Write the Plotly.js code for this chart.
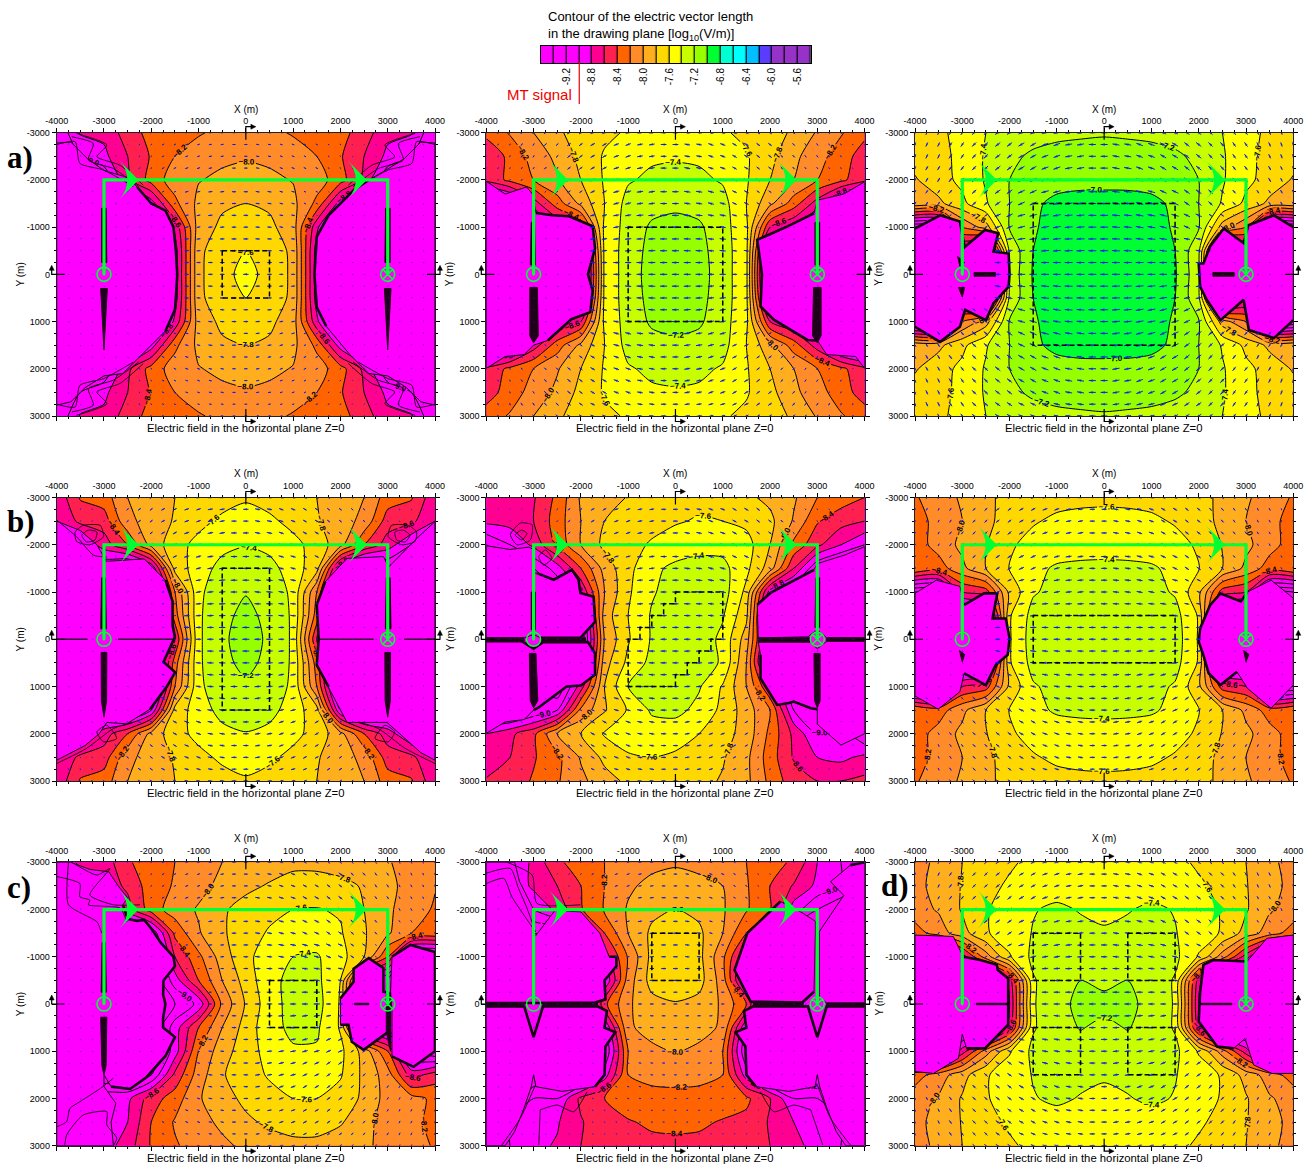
<!DOCTYPE html>
<html><head><meta charset="utf-8">
<script src="https://cdn.plot.ly/plotly-3.0.0.min.js"></script>
<style>html,body{margin:0;padding:0;background:#fff}</style></head><body><div id="chart"></div>
<script>
const gridX=[-4000,-3500,-3000,-2500,-2000,-1500,-1000,-500,0,500,1000,1500,2000,2500,3000,3500,4000];
const gridY=[-3000,-2500,-2000,-1500,-1000,-500,0,500,1000,1500,2000,2500,3000];
const legendLevels=[-9.5,-9.3,-9.1,-8.9,-8.7,-8.5,-8.3,-8.1,-7.9,-7.7,-7.5,-7.3,-7.1,-6.9,-6.7,-6.5,-6.3,-6.1,-5.9,-5.7,-5.5];
const legendColors=['#ff00ff','#ff00ff','#ff00ff','#ff00ff','#ff0090','#ff2050','#ff6400','#ff8c28','#ffaf1e','#ffd800','#ffff00','#c8ff00','#96ff00','#00ff32','#00ffd2','#00ffff','#00beff','#5a3cff','#9632c8','#9632c8','#9632c8'];
const legendTicks=[-9.2,-8.8,-8.4,-8.0,-7.6,-7.2,-6.8,-6.4,-6.0,-5.6];
const legendTickText=['-9.2','-8.8','-8.4','-8.0','-7.6','-7.2','-6.8','-6.4','-6.0','-5.6'];
const mtSignalLevel=-9.0;
const xTicks=[-4000,-3000,-2000,-1000,0,1000,2000,3000,4000];
const yTicks=[-3000,-2000,-1000,0,1000,2000,3000];
const loopX=[-3000,-3000,3000,3000];
const loopY=[0,-2000,-2000,0];
const arrowAngle=[
[200,205,215,225,235,245,255,262,270,278,285,295,305,315,325,335,340],
[200,205,215,225,232,240,250,260,270,280,290,300,308,315,325,335,340],
[205,210,218,225,232,240,250,260,270,280,290,300,308,315,322,330,335],
[210,215,222,228,235,245,255,262,270,278,285,295,305,312,318,325,330],
[225,225,230,235,245,255,260,265,270,275,280,285,295,305,310,315,315],
[245,245,250,255,260,262,265,268,270,272,275,278,280,285,290,295,295],
[270,270,270,270,270,270,270,270,270,270,270,270,270,270,270,270,270],
[295,295,290,285,280,278,275,272,270,268,265,262,260,255,250,245,245],
[315,315,310,305,295,285,280,275,270,265,260,255,245,235,230,225,225],
[330,325,318,312,305,295,285,278,270,262,255,245,235,228,222,215,210],
[335,330,322,315,308,300,290,280,270,260,250,240,232,225,218,210,205],
[340,335,325,315,308,300,290,280,270,260,250,240,232,225,215,205,200],
[340,335,325,315,305,295,285,278,270,262,255,245,235,225,215,205,200]];

const panelA_z=[
[-9.2,-8.78,-8.75,-8.5,-8.33,-8.28,-8.22,-8.15,-8.12,-8.15,-8.22,-8.28,-8.33,-8.5,-8.75,-8.78,-9.2],
[-9.2,-9.0,-8.85,-8.6,-8.38,-8.2,-8.1,-8.04,-8.02,-8.04,-8.1,-8.2,-8.38,-8.6,-8.85,-9.0,-9.2],
[-9.4,-9.4,-9.2,-8.65,-8.32,-8.1,-8.01,-7.96,-7.93,-7.96,-8.01,-8.1,-8.32,-8.65,-9.2,-9.4,-9.4],
[-9.4,-9.4,-9.4,-9.4,-8.9,-8.25,-7.95,-7.83,-7.8,-7.83,-7.95,-8.25,-8.9,-9.4,-9.4,-9.4,-9.4],
[-9.4,-9.4,-9.4,-9.4,-9.4,-8.75,-7.9,-7.76,-7.7,-7.76,-7.9,-8.75,-9.4,-9.4,-9.4,-9.4,-9.4],
[-9.4,-9.4,-9.4,-9.4,-9.4,-8.9,-7.83,-7.72,-7.6,-7.72,-7.83,-8.9,-9.4,-9.4,-9.4,-9.4,-9.4],
[-9.4,-9.4,-9.4,-9.4,-9.4,-8.9,-7.83,-7.7,-7.5,-7.7,-7.83,-8.9,-9.4,-9.4,-9.4,-9.4,-9.4],
[-9.4,-9.4,-9.4,-9.4,-9.4,-8.9,-7.83,-7.72,-7.6,-7.72,-7.83,-8.9,-9.4,-9.4,-9.4,-9.4,-9.4],
[-9.4,-9.4,-9.4,-9.4,-9.4,-8.75,-7.9,-7.76,-7.7,-7.76,-7.9,-8.75,-9.4,-9.4,-9.4,-9.4,-9.4],
[-9.4,-9.4,-9.4,-9.4,-8.9,-8.25,-7.95,-7.83,-7.8,-7.83,-7.95,-8.25,-8.9,-9.4,-9.4,-9.4,-9.4],
[-9.4,-9.4,-9.2,-8.65,-8.32,-8.1,-8.01,-7.96,-7.93,-7.96,-8.01,-8.1,-8.32,-8.65,-9.2,-9.4,-9.4],
[-9.2,-9.0,-8.85,-8.6,-8.38,-8.2,-8.1,-8.04,-8.02,-8.04,-8.1,-8.2,-8.38,-8.6,-8.85,-9.0,-9.2],
[-9.2,-8.78,-8.75,-8.5,-8.33,-8.28,-8.22,-8.15,-8.12,-8.15,-8.22,-8.28,-8.33,-8.5,-8.75,-8.78,-9.2]];
const panelA_blobs=[
[-4000,-2780,-3700,-2800,-3350,-2450,-3000,-2200,-2500,-2050,-2300,-1850,-2000,-1500,-1700,-1350,-1530,-1000,-1480,-500,-1450,0,-1480,500,-1500,750,-1700,1200,-2200,1700,-2600,2100,-3000,2150,-3400,2400,-3700,2700,-4000,2770],
[4000,-2780,3700,-2800,3350,-2450,3000,-2230,2600,-2000,2300,-1800,1750,-1250,1500,-800,1450,0,1500,700,1700,1100,2200,1700,2600,2100,3000,2150,3400,2400,3700,2700,4000,2770]];
const panelA_edges=[[5,13],[4,10]];
const panelA_spikes=[[-3050,-1400,-2955,-1400,-2940,-250,-3050,-250],[-3070,300,-2930,300,-3000,1600],[2955,-1400,3050,-1400,3050,-250,2940,-250],[2930,300,3070,300,3000,1600]];
const panelA_thin=[
[-4000,-2750,-3610,-2810,-3510,-2350,-3010,-2210,-2380,-1860],
[-3680,-2915,-3225,-2770,-3330,-2420,-2800,-2240,-2270,-1860],
[-3580,-2985,-2940,-2740,-3150,-2490,-2660,-2310,-2170,-1890],
[4000,-2750,3610,-2810,3510,-2350,3010,-2210,2380,-1860],
[3680,-2915,3225,-2770,3330,-2420,2800,-2240,2270,-1860],
[3580,-2985,2940,-2740,3150,-2490,2660,-2310,2170,-1890],
[-4000,2750,-3610,2810,-3510,2350,-3010,2210,-2380,1860],
[-3680,2915,-3225,2770,-3330,2420,-2800,2240,-2270,1860],
[-3580,2985,-2940,2740,-3150,2490,-2660,2310,-2170,1890],
[4000,2750,3610,2810,3510,2350,3010,2210,2380,1860],
[3680,2915,3225,2770,3330,2420,2800,2240,2270,1860],
[3580,2985,2940,2740,3150,2490,2660,2310,2170,1890]];
const panelA_boxX=[-500,500,500,-500,-500];
const panelA_boxY=[-500,-500,500,500,-500];

const panelB_z=[
[-8.35,-8.18,-8.0,-7.83,-7.72,-7.64,-7.58,-7.53,-7.5,-7.53,-7.58,-7.64,-7.72,-7.83,-8.02,-8.18,-8.35],
[-8.55,-8.35,-8.12,-7.95,-7.74,-7.58,-7.48,-7.43,-7.42,-7.43,-7.48,-7.58,-7.74,-7.95,-8.12,-8.3,-8.5],
[-8.55,-8.35,-8.2,-8.02,-7.8,-7.58,-7.42,-7.36,-7.34,-7.36,-7.42,-7.58,-7.8,-8.0,-8.2,-8.35,-8.55],
[-9.4,-9.2,-8.7,-8.3,-7.95,-7.6,-7.33,-7.27,-7.24,-7.27,-7.33,-7.6,-7.95,-8.3,-8.7,-9.2,-9.4],
[-9.4,-9.4,-9.2,-8.8,-8.6,-7.55,-7.32,-7.17,-7.14,-7.17,-7.32,-7.55,-8.6,-8.8,-9.2,-9.4,-9.4],
[-9.4,-9.4,-9.4,-9.4,-9.2,-7.55,-7.3,-7.14,-7.1,-7.14,-7.3,-7.55,-9.2,-9.4,-9.4,-9.4,-9.4],
[-9.4,-9.4,-9.4,-9.4,-9.4,-7.55,-7.3,-7.12,-7.08,-7.12,-7.3,-7.55,-9.4,-9.4,-9.4,-9.4,-9.4],
[-9.4,-9.4,-9.4,-9.4,-9.2,-7.55,-7.3,-7.14,-7.1,-7.14,-7.3,-7.55,-9.2,-9.4,-9.4,-9.4,-9.4],
[-9.4,-9.4,-9.2,-8.8,-8.6,-7.55,-7.32,-7.17,-7.14,-7.17,-7.32,-7.55,-8.6,-8.8,-9.2,-9.4,-9.4],
[-9.4,-9.2,-8.7,-8.3,-7.95,-7.6,-7.33,-7.27,-7.24,-7.27,-7.33,-7.6,-7.95,-8.3,-8.7,-9.2,-9.4],
[-8.55,-8.35,-8.2,-8.02,-7.8,-7.58,-7.42,-7.36,-7.34,-7.36,-7.42,-7.58,-7.8,-8.0,-8.2,-8.35,-8.55],
[-8.5,-8.3,-8.12,-7.95,-7.74,-7.58,-7.48,-7.43,-7.42,-7.43,-7.48,-7.58,-7.74,-7.95,-8.12,-8.3,-8.5],
[-8.3,-8.18,-8.0,-7.83,-7.72,-7.64,-7.58,-7.53,-7.5,-7.53,-7.58,-7.64,-7.72,-7.83,-8.02,-8.18,-8.3]];
const panelB_blobs=[
[-4000,-1970,-3600,-1700,-3150,-1850,-3020,-1700,-2950,-1300,-2600,-1250,-2250,-1230,-1750,-1020,-1700,-550,-1850,0,-1750,350,-1800,800,-2200,950,-2700,1400,-3000,1500,-3200,1700,-3600,1740,-4000,1990],
[4000,-1960,3560,-1700,3000,-1570,2930,-1290,2360,-1010,1730,-730,1830,0,1800,680,2080,960,2790,1390,3000,1400,3200,1700,3810,1740,4000,1990]];
const panelB_edges=[[4,13],[3,10]];
const panelB_spikes=[[-3050,-1100,-2980,-1100,-2960,-200,-3070,-200],[-3080,280,-2920,280,-2900,1300,-3000,1450,-3080,1300],[2950,-1100,3050,-1100,3050,-200,2950,-200],[2920,280,3080,280,3080,1300,3000,1450,2900,1300]];
const panelB_thin=[];
const panelB_boxX=[-1000,1000,1000,-1000,-1000];
const panelB_boxY=[-1000,-1000,1000,1000,-1000];

const panelC_z=[
[-7.72,-7.65,-7.52,-7.4,-7.3,-7.27,-7.24,-7.23,-7.22,-7.23,-7.24,-7.27,-7.3,-7.4,-7.52,-7.65,-7.72],
[-7.72,-7.68,-7.53,-7.38,-7.24,-7.17,-7.14,-7.12,-7.11,-7.12,-7.14,-7.17,-7.24,-7.38,-7.53,-7.68,-7.72],
[-7.82,-7.68,-7.55,-7.38,-7.2,-7.1,-7.06,-7.04,-7.03,-7.04,-7.06,-7.1,-7.2,-7.38,-7.55,-7.68,-7.82],
[-7.85,-7.85,-7.65,-7.42,-7.2,-7.03,-6.96,-6.95,-6.96,-6.95,-6.96,-7.03,-7.2,-7.42,-7.65,-7.85,-7.85],
[-9.4,-9.4,-8.2,-7.9,-7.18,-7.02,-6.93,-6.91,-6.9,-6.91,-6.93,-7.02,-7.18,-7.9,-8.2,-9.4,-9.4],
[-9.4,-9.4,-8.9,-9.2,-7.35,-7.0,-6.91,-6.88,-6.87,-6.88,-6.91,-7.0,-7.35,-9.2,-8.9,-9.4,-9.4],
[-9.4,-9.4,-9.0,-9.2,-7.35,-6.98,-6.9,-6.87,-6.86,-6.87,-6.9,-6.98,-7.35,-9.2,-9.0,-9.4,-9.4],
[-9.4,-9.4,-8.9,-9.2,-7.35,-7.0,-6.91,-6.88,-6.87,-6.88,-6.91,-7.0,-7.35,-9.2,-8.9,-9.4,-9.4],
[-9.4,-9.4,-8.2,-7.9,-7.18,-7.02,-6.93,-6.91,-6.9,-6.91,-6.93,-7.02,-7.18,-7.9,-8.2,-9.4,-9.4],
[-7.85,-7.85,-7.65,-7.42,-7.2,-7.03,-6.96,-6.95,-6.96,-6.95,-6.96,-7.03,-7.2,-7.42,-7.65,-7.85,-7.85],
[-7.82,-7.68,-7.55,-7.38,-7.2,-7.1,-7.06,-7.04,-7.03,-7.04,-7.06,-7.1,-7.2,-7.38,-7.55,-7.68,-7.82],
[-7.72,-7.68,-7.53,-7.38,-7.24,-7.17,-7.14,-7.12,-7.11,-7.12,-7.14,-7.17,-7.24,-7.38,-7.53,-7.68,-7.72],
[-7.72,-7.65,-7.52,-7.4,-7.3,-7.27,-7.24,-7.23,-7.22,-7.23,-7.24,-7.27,-7.3,-7.4,-7.52,-7.65,-7.72]];
const panelC_blobs=[
[-4000,-970,-3470,-1250,-3050,-1120,-2950,-580,-2520,-940,-2240,-870,-2340,-480,-2020,-440,-2000,0,-2020,260,-2340,610,-2500,970,-2940,750,-3050,1110,-3470,1430,-4000,1110],
[4000,-1000,3590,-1250,3050,-1040,2950,-660,2530,-970,2240,-590,2100,-230,2000,-230,2030,260,2170,540,2460,970,2950,540,3060,1180,3590,1350,4000,970]];
const panelC_edges=[[0,15],[0,14]];
const panelC_spikes=[[-2750,-40,-2300,-40,-2300,40,-2750,40],[2300,-40,2750,-40,2750,40,2300,40],[-3100,-380,-2950,-250,-3050,-170],[-3080,280,-2950,280,-3000,480]];
const panelC_thin=[];
const panelC_boxX=[-1500,1500,1500,-1500,-1500];
const panelC_boxY=[-1500,-1500,1500,1500,-1500];

const panelD_z=[
[-8.75,-8.38,-8.3,-8.0,-7.9,-7.8,-7.74,-7.68,-7.62,-7.68,-7.74,-7.8,-7.9,-8.0,-8.3,-8.38,-8.75],
[-8.8,-8.55,-8.5,-8.05,-7.92,-7.78,-7.66,-7.56,-7.53,-7.56,-7.66,-7.78,-7.92,-8.05,-8.5,-8.55,-8.8],
[-9.2,-9.0,-8.7,-8.4,-7.93,-7.68,-7.54,-7.46,-7.41,-7.46,-7.54,-7.68,-7.93,-8.4,-8.7,-9.0,-9.2],
[-9.4,-9.4,-9.2,-9.4,-9.0,-7.72,-7.5,-7.33,-7.29,-7.33,-7.5,-7.72,-9.0,-9.4,-9.2,-9.4,-9.4],
[-9.4,-9.4,-9.4,-9.4,-9.4,-8.2,-7.44,-7.28,-7.21,-7.28,-7.44,-8.2,-9.4,-9.4,-9.4,-9.4,-9.4],
[-9.4,-9.4,-9.4,-9.4,-9.4,-8.3,-7.43,-7.25,-7.15,-7.25,-7.43,-8.3,-9.4,-9.4,-9.4,-9.4,-9.4],
[-9.4,-9.4,-9.4,-9.4,-9.4,-8.6,-7.43,-7.24,-7.1,-7.24,-7.43,-8.6,-9.4,-9.4,-9.4,-9.4,-9.4],
[-9.4,-9.4,-9.4,-9.4,-9.4,-8.3,-7.43,-7.25,-7.15,-7.25,-7.43,-8.3,-9.4,-9.4,-9.4,-9.4,-9.4],
[-9.4,-9.4,-9.4,-9.4,-9.4,-8.2,-7.44,-7.28,-7.23,-7.28,-7.44,-8.2,-9.4,-9.4,-9.4,-9.4,-9.4],
[-9.4,-9.4,-9.2,-9.4,-9.0,-7.72,-7.5,-7.33,-7.29,-7.33,-7.5,-7.72,-9.0,-9.4,-9.2,-9.4,-9.4],
[-9.2,-9.0,-8.7,-8.4,-7.93,-7.68,-7.54,-7.46,-7.41,-7.46,-7.54,-7.68,-7.93,-8.4,-8.7,-9.0,-9.2],
[-8.8,-8.55,-8.5,-8.05,-7.92,-7.78,-7.66,-7.56,-7.53,-7.56,-7.66,-7.78,-7.92,-8.05,-8.5,-8.55,-8.8],
[-8.75,-8.38,-8.3,-8.0,-7.9,-7.8,-7.74,-7.68,-7.62,-7.68,-7.74,-7.8,-7.9,-8.0,-8.3,-8.38,-8.75]];
const panelD_blobs=[
[-4000,-2500,-3500,-2300,-3150,-2000,-2950,-1650,-2150,-1700,-1700,-1250,-1550,-800,-1550,-300,-1500,-50,-1740,480,-1495,700,-1670,1000,-2025,1480,-2520,1790,-2940,1760,-3100,2000,-3400,2250,-3700,2400,-4000,2560],
[4000,-2490,3650,-2170,3020,-1530,2910,-1750,2140,-1710,1680,-1220,1500,-730,1540,0,1500,550,1750,1010,2140,1760,2985,1760,3260,2000,3700,2400,4000,2560]];
const panelD_edges=[[5,12],[5,9]];
const panelD_spikes=[[-3050,-1300,-2970,-1300,-2950,-220,-3070,-220],[-3060,280,-2940,280,-2945,1300,-3000,1650,-3055,1300],[2970,-1300,3050,-1300,3070,-220,2950,-220],[2940,280,3060,280,3055,1300,3000,1650,2945,1300],[-2700,0,-1500,0],[-4000,0,-3350,0],[1500,0,2700,0],[3350,0,4000,0]];
const panelD_thin=[
[-3610,-2270,-3440,-2410,-3080,-2410,-3010,-2170,-3300,-2000,-3580,-2070,-3610,-2270],
[-3470,-2200,-3330,-2310,-3150,-2270,-3190,-2100,-3370,-2060,-3470,-2200],
[-4000,-2520,-3580,-2170,-3220,-1780,-2940,-1740],
[-4000,2630,-3370,2310,-2800,1890,-2380,1750],
[-3150,1960,-2940,1820,-2730,2100,-3010,2170,-3150,1960],
[3610,-2270,3440,-2410,3080,-2410,3010,-2170,3300,-2000,3580,-2070,3610,-2270],
[3470,-2200,3330,-2310,3150,-2270,3190,-2100,3370,-2060,3470,-2200],
[4000,2630,3370,2310,2800,1890,2380,1750],
[3150,1960,2940,1820,2730,2100,3010,2170,3150,1960]];
const panelD_boxX=[-500,500,500,-500,-500];
const panelD_boxY=[-1500,-1500,1500,1500,-1500];

const panelE_z=[
[-8.68,-8.65,-8.62,-8.35,-7.97,-7.88,-7.79,-7.72,-7.67,-7.66,-7.7,-7.76,-7.85,-7.97,-8.2,-8.3,-8.4],
[-8.75,-8.72,-8.6,-8.3,-8.0,-7.8,-7.72,-7.66,-7.62,-7.58,-7.6,-7.65,-7.75,-8.02,-8.38,-8.52,-8.6],
[-9.2,-9.0,-8.75,-8.35,-8.0,-7.75,-7.66,-7.58,-7.5,-7.47,-7.47,-7.52,-7.8,-8.25,-8.55,-8.8,-9.0],
[-9.4,-9.4,-9.2,-8.9,-8.4,-7.92,-7.66,-7.44,-7.36,-7.32,-7.34,-7.55,-7.9,-8.6,-9.2,-9.4,-9.4],
[-9.4,-9.4,-9.4,-9.2,-8.8,-8.0,-7.63,-7.42,-7.32,-7.26,-7.31,-7.65,-8.9,-9.2,-9.4,-9.4,-9.4],
[-9.4,-9.4,-9.4,-9.4,-9.2,-7.9,-7.6,-7.38,-7.3,-7.27,-7.38,-7.75,-9.2,-9.4,-9.4,-9.4,-9.4],
[-9.4,-9.4,-9.4,-9.4,-9.4,-7.98,-7.62,-7.38,-7.3,-7.28,-7.45,-7.9,-9.0,-9.4,-9.4,-9.4,-9.4],
[-9.4,-9.4,-9.4,-9.4,-9.2,-7.88,-7.55,-7.34,-7.3,-7.32,-7.42,-8.0,-9.2,-9.4,-9.4,-9.4,-9.4],
[-9.4,-9.4,-9.2,-9.4,-8.7,-7.8,-7.39,-7.32,-7.31,-7.38,-7.62,-8.0,-8.6,-9.2,-9.4,-9.4,-9.4],
[-9.4,-9.4,-9.2,-9.0,-8.15,-7.82,-7.58,-7.37,-7.34,-7.46,-7.65,-7.9,-8.2,-9.0,-9.2,-9.2,-9.4],
[-8.8,-8.65,-8.45,-8.0,-7.8,-7.58,-7.52,-7.5,-7.52,-7.6,-7.72,-7.88,-8.25,-8.65,-9.0,-8.9,-9.2],
[-8.72,-8.6,-8.42,-8.25,-7.98,-7.75,-7.62,-7.6,-7.63,-7.68,-7.78,-7.95,-8.3,-8.62,-8.8,-8.85,-8.75],
[-8.58,-8.5,-8.38,-8.22,-8.05,-7.88,-7.76,-7.7,-7.7,-7.74,-7.82,-7.95,-8.25,-8.52,-8.6,-8.6,-8.55]];
const panelE_blobs=[
[-4000,-1980,-3500,-1900,-3100,-1950,-3000,-1900,-3000,-1400,-2930,-1400,-2575,-1260,-2190,-1470,-2050,-1260,-2010,-980,-1730,-900,-1700,-370,-2010,-30,-2850,-30,-3000,-100,-3200,-30,-4000,-30],
[-4000,40,-3250,40,-3000,200,-2800,60,-1850,60,-1700,300,-1700,750,-2000,980,-2300,1000,-2900,1450,-3000,1500,-3200,1700,-3600,1750,-4000,1990],
[1730,-730,2010,-980,2930,-1470,3000,-1600,3600,-1790,4000,-1960,4000,-30,3200,-30,3000,-200,2800,-50,1750,-30],
[1750,60,2850,60,3000,200,3200,40,4000,40,4000,2000,3500,2240,3000,1800,3000,1480,2860,1460,2500,1320,2400,1350,2150,1390,1800,830,1800,330]];
const panelE_edges=[[5,13],[0,10],[0,2],[8,14]];
const panelE_spikes=[[-3050,-1000,-2960,-1000,-2960,-200,-3050,-200],[-3090,300,-2950,300,-2910,1300,-3000,1450,-3070,1300],[2970,-1300,3050,-1300,3050,-250,2950,-250],[2930,300,3060,300,3060,1300,3000,1450,2940,1300],[1750,-30,2850,-30,2850,60,1750,60],[3200,-30,4000,-30,4000,40,3200,40],[-2850,-30,-1900,-30,-1900,60,-2850,60],[-4000,-30,-3200,-30,-3200,40,-4000,40]];
const panelE_thin=[
[-3490,-2210,-3280,-2460,-3030,-2420,-3070,-2100,-3350,-2000,-3490,-2210],
[-3390,-2210,-3250,-2310,-3140,-2240,-3250,-2100,-3390,-2210],
[-2890,-1750,-2750,-1890,-2610,-1710,-2790,-1570,-2890,-1750]];
const panelE_boxX=[0,1000,1000,750,750,500,500,250,250,0,0,-1000,-1000,-750,-750,-500,-500,-250,-250,0,0];
const panelE_boxY=[-1000,-1000,0,0,250,250,500,500,750,750,1000,1000,0,0,-250,-250,-500,-500,-750,-750,-1000];

const panelF_z=[
[-8.22,-8.1,-7.97,-7.82,-7.77,-7.72,-7.67,-7.65,-7.64,-7.65,-7.67,-7.72,-7.77,-7.82,-7.97,-8.1,-8.22],
[-8.3,-8.12,-8.0,-7.84,-7.73,-7.62,-7.56,-7.54,-7.54,-7.54,-7.56,-7.62,-7.73,-7.84,-8.0,-8.12,-8.3],
[-8.3,-8.12,-7.95,-7.81,-7.63,-7.53,-7.48,-7.46,-7.45,-7.46,-7.48,-7.53,-7.63,-7.81,-7.95,-8.12,-8.3],
[-8.2,-8.3,-8.05,-7.8,-7.59,-7.44,-7.38,-7.37,-7.37,-7.37,-7.38,-7.44,-7.59,-7.8,-8.05,-8.3,-8.2],
[-9.4,-9.4,-8.6,-8.5,-7.75,-7.42,-7.34,-7.31,-7.3,-7.31,-7.34,-7.42,-7.75,-8.5,-8.6,-9.4,-9.4],
[-9.4,-9.4,-9.4,-9.2,-7.62,-7.33,-7.3,-7.27,-7.26,-7.27,-7.3,-7.33,-7.62,-9.2,-9.4,-9.4,-9.4],
[-9.4,-9.4,-9.4,-9.4,-7.62,-7.3,-7.25,-7.22,-7.21,-7.22,-7.25,-7.3,-7.62,-9.4,-9.4,-9.4,-9.4],
[-9.4,-9.4,-9.4,-9.2,-7.62,-7.33,-7.3,-7.27,-7.26,-7.27,-7.3,-7.33,-7.62,-9.2,-9.4,-9.4,-9.4],
[-9.4,-9.4,-8.6,-8.5,-7.75,-7.42,-7.34,-7.31,-7.3,-7.31,-7.34,-7.42,-7.75,-8.5,-8.6,-9.4,-9.4],
[-8.2,-8.3,-8.05,-7.8,-7.59,-7.44,-7.38,-7.37,-7.37,-7.37,-7.38,-7.44,-7.59,-7.8,-8.05,-8.3,-8.2],
[-8.3,-8.12,-7.95,-7.81,-7.63,-7.53,-7.48,-7.46,-7.45,-7.46,-7.48,-7.53,-7.63,-7.81,-7.95,-8.12,-8.3],
[-8.3,-8.12,-8.0,-7.84,-7.73,-7.62,-7.56,-7.54,-7.54,-7.54,-7.56,-7.62,-7.73,-7.84,-8.0,-8.12,-8.3],
[-8.22,-8.1,-7.97,-7.82,-7.77,-7.72,-7.67,-7.65,-7.64,-7.65,-7.67,-7.72,-7.77,-7.82,-7.97,-8.1,-8.22]];
const panelF_blobs=[
[-4000,-970,-3550,-1250,-3050,-1120,-2960,-730,-2540,-970,-2260,-970,-2360,-440,-2080,-440,-2000,-20,-2040,330,-2290,540,-2500,970,-2960,720,-3050,1110,-3510,1480,-4000,1200],
[4000,-870,3530,-1250,3030,-1000,2890,-800,2460,-970,2240,-720,2030,-230,2000,50,2100,340,2210,720,2460,970,2810,690,3030,1040,3530,1460,4000,970]];
const panelF_edges=[[3,12],[2,11]];
const panelF_spikes=[[-3060,240,-2950,320,-3000,480],[2950,240,3060,320,3000,480]];
const panelF_thin=[];
const panelF_boxX=[-1500,1500,1500,-1500,-1500];
const panelF_boxY=[-500,-500,500,500,-500];

const panelG_z=[
[-9.0,-8.75,-8.72,-8.42,-8.32,-8.2,-8.1,-8.0,-7.95,-7.9,-7.85,-7.85,-7.9,-7.94,-7.98,-8.1,-8.18],
[-9.1,-8.95,-8.75,-8.55,-8.3,-8.18,-8.06,-7.95,-7.85,-7.78,-7.72,-7.72,-7.74,-7.82,-7.93,-8.1,-8.19],
[-9.4,-9.2,-9.0,-8.7,-8.3,-8.1,-7.98,-7.83,-7.72,-7.65,-7.6,-7.59,-7.62,-7.8,-7.96,-8.12,-8.22],
[-9.4,-9.4,-9.4,-9.4,-9.2,-8.35,-8.02,-7.83,-7.68,-7.58,-7.52,-7.5,-7.58,-7.78,-7.97,-8.2,-8.25],
[-9.4,-9.4,-9.4,-9.4,-9.4,-8.6,-8.25,-7.9,-7.65,-7.5,-7.4,-7.38,-7.52,-7.8,-8.4,-9.4,-9.4],
[-9.4,-9.4,-9.4,-9.4,-9.4,-8.9,-8.4,-8.0,-7.72,-7.45,-7.35,-7.35,-7.6,-9.0,-9.2,-9.4,-9.4],
[-9.4,-9.4,-9.4,-9.4,-9.3,-9.2,-8.95,-8.15,-7.78,-7.48,-7.33,-7.32,-7.62,-9.0,-9.2,-9.4,-9.4],
[-9.4,-9.4,-9.4,-9.4,-9.4,-8.9,-8.4,-8.0,-7.72,-7.46,-7.36,-7.37,-7.62,-9.0,-9.2,-9.4,-9.4],
[-9.4,-9.4,-9.4,-9.4,-9.4,-8.9,-8.2,-7.88,-7.7,-7.52,-7.42,-7.42,-7.55,-7.88,-8.4,-9.2,-9.4],
[-9.4,-9.4,-9.4,-9.4,-9.2,-8.55,-8.1,-7.82,-7.68,-7.58,-7.5,-7.52,-7.58,-7.85,-8.1,-8.7,-8.5],
[-9.4,-9.0,-8.85,-8.85,-8.5,-8.3,-8.02,-7.88,-7.75,-7.66,-7.6,-7.6,-7.68,-7.84,-8.08,-8.12,-8.25],
[-9.1,-8.9,-8.9,-8.8,-8.4,-8.18,-8.05,-7.97,-7.84,-7.76,-7.72,-7.72,-7.78,-7.92,-8.1,-8.15,-8.25],
[-9.0,-8.95,-8.9,-8.7,-8.38,-8.22,-8.12,-8.03,-7.97,-7.9,-7.85,-7.85,-7.9,-7.97,-8.05,-8.12,-8.22]];
const panelG_blobs=[
[-4000,-3000,-3700,-3000,-3300,-2850,-2900,-2800,-2700,-2500,-2500,-2250,-2600,-2100,-2500,-1800,-2300,-1760,-2150,-1780,-2000,-1600,-1800,-1300,-1530,-1000,-1500,-800,-1740,-500,-1750,-200,-1700,0,-1750,300,-1750,500,-1500,700,-1700,1100,-2100,1550,-2450,1800,-2850,1750,-3000,1500,-3000,1750,-2750,2100,-2850,2500,-2800,3000,-4000,3000],
[2000,-120,2280,-470,2280,-750,2600,-970,2910,-760,2910,-260,3000,-250,3020,585,2490,970,2240,800,2170,440,2000,440],
[3090,-1000,3480,-1250,4000,-1100,4000,1000,3550,1330,3090,1110,3090,160,3060,-260]];
const panelG_edges=[[6,23],[0,12],[0,5]];
const panelG_spikes=[[-3040,-1300,-2970,-1300,-2950,-250,-3060,-250],[-3070,280,-2940,280,-2955,1300,-3000,1500,-3045,1300],[2970,-250,3060,-250,3060,1000,2970,600],[2300,-15,2600,-15,2600,15,2300,15]];
const panelG_thin=[
[-3750,-3000,-3750,-2100,-3150,-1740,-3050,-1500],
[-4000,-2700,-3510,-2550,-3510,-2270,-3300,-2200,-3330,-2100,-2660,-2030,-2520,-1740],
[-3680,-3000,-3150,-2730,-2870,-2870,-3300,-2310,-2800,-2100,-2240,-2100],
[-4000,2600,-3790,2490,-3720,2210,-3510,2070,-3080,1790,-2800,1570],
[-3830,2980,-3790,2770,-3440,2350,-2940,2280,-2940,2560,-2730,2840,-2800,3000]];
const panelG_boxX=[500,1500,1500,500,500];
const panelG_boxY=[-500,-500,500,500,-500];

const panelH_z=[
[-9.2,-9.0,-8.75,-8.42,-8.35,-8.2,-8.12,-8.05,-8.02,-8.05,-8.12,-8.2,-8.35,-8.42,-8.8,-9.0,-9.2],
[-9.2,-9.0,-8.75,-8.6,-8.4,-8.2,-8.03,-7.95,-7.93,-7.95,-8.0,-8.18,-8.4,-8.62,-8.85,-9.0,-9.2],
[-9.4,-9.4,-9.0,-8.75,-8.42,-8.18,-7.98,-7.85,-7.79,-7.85,-7.98,-8.18,-8.38,-8.9,-9.2,-9.4,-9.4],
[-9.4,-9.4,-9.4,-9.4,-9.2,-8.4,-8.0,-7.76,-7.7,-7.76,-8.0,-8.4,-9.2,-9.4,-9.4,-9.4,-9.4],
[-9.4,-9.4,-9.4,-9.4,-9.4,-8.7,-8.18,-7.74,-7.66,-7.74,-8.15,-8.8,-9.4,-9.4,-9.4,-9.4,-9.4],
[-9.4,-9.4,-9.4,-9.4,-9.4,-9.0,-8.1,-7.72,-7.63,-7.72,-8.1,-9.0,-9.4,-9.4,-9.4,-9.4,-9.4],
[-9.4,-9.4,-9.4,-9.4,-9.4,-8.45,-8.03,-7.87,-7.82,-7.87,-8.03,-8.4,-9.4,-9.4,-9.4,-9.4,-9.4],
[-9.4,-9.4,-9.4,-9.4,-9.4,-9.0,-8.02,-7.95,-7.9,-7.95,-8.02,-9.0,-9.4,-9.4,-9.4,-9.4,-9.4],
[-9.4,-9.4,-9.4,-9.4,-9.4,-9.2,-8.2,-8.03,-7.99,-8.03,-8.2,-9.2,-9.4,-9.4,-9.4,-9.4,-9.4],
[-9.4,-9.4,-9.4,-9.4,-9.4,-8.9,-8.2,-8.14,-8.12,-8.14,-8.2,-8.9,-9.4,-9.4,-9.4,-9.4,-9.4],
[-9.4,-9.4,-9.0,-9.0,-8.55,-8.4,-8.27,-8.27,-8.27,-8.27,-8.27,-8.36,-8.6,-9.0,-9.0,-9.4,-9.4],
[-9.2,-9.0,-8.9,-8.82,-8.62,-8.45,-8.42,-8.36,-8.35,-8.36,-8.42,-8.45,-8.62,-8.8,-9.0,-9.0,-9.2],
[-9.2,-9.0,-8.85,-8.78,-8.6,-8.55,-8.5,-8.46,-8.45,-8.46,-8.5,-8.55,-8.6,-8.72,-8.9,-9.0,-9.2]];
const panelH_blobs=[
[-4000,-3000,-3400,-3000,-3300,-2600,-3100,-2200,-3000,-2000,-3000,-1500,-2950,-1450,-2550,-1980,-2000,-1950,-1600,-1500,-1400,-1000,-1250,-1000,-1250,-800,-1500,-500,-1480,-100,-1700,-30,-3000,-20,-4000,-20],
[-4000,50,-3200,50,-3000,700,-2800,50,-1650,50,-1450,150,-1500,500,-1270,600,-1480,900,-1500,1500,-1700,1750,-2400,1850,-2950,1750,-3000,1500,-3050,1750,-3200,2200,-3400,2700,-3600,3000,-4000,3000],
[4000,-3000,3700,-2940,3280,-2590,3560,-2300,3040,-1530,3040,-150,3200,-20,4000,-20],
[2930,-260,2680,-30,1590,-50,1250,-720,1520,-1500,2220,-2170,2650,-1950,2960,-1750,2960,-1530],
[4000,50,3200,50,3000,700,2800,50,1650,50,1450,150,1500,500,1270,600,1480,900,1500,1500,1700,1750,2400,1850,2950,1750,3000,1500,3050,1750,3200,2200,3400,2700,3600,3000,4000,3000]];
const panelH_edges=[[10,17],[0,10],[0,1],[0,5],[0,10]];
const panelH_spikes=[[-4000,-20,-3200,-20,-3200,50,-4000,50],[-2800,-20,-1650,-20,-1650,50,-2800,50],[1650,-30,2700,-30,2700,50,1650,50],[3200,-20,4000,-20,4000,50,3200,50]];
const panelH_thin=[
[-4000,-2770,-3490,-2870,-3320,-2450,-3140,-2030,-2960,-1530],
[-4000,-2550,-3630,-2660,-3460,-2270,-2960,-1530],
[-3560,-3000,-3030,-2730,-2930,-2130,-2010,-2100],
[-3670,2985,-3280,2420,-2960,1710],
[-2860,2240,-2500,2140,-2150,2280,-1870,1860],
[-2890,2985,-2860,2240],
[3700,2985,3280,2420,3000,1710],
[2860,2240,2500,2140,2080,2280,1800,1860],
[3115,2985,2860,2240]];
const panelH_boxX=[-500,500,500,-500,-500];
const panelH_boxY=[-1500,-1500,-500,-500,-1500];

const panelI_z=[
[-8.05,-7.97,-7.8,-7.72,-7.63,-7.55,-7.54,-7.52,-7.5,-7.52,-7.54,-7.55,-7.63,-7.72,-7.8,-7.97,-8.05],
[-8.07,-7.92,-7.79,-7.66,-7.57,-7.52,-7.47,-7.46,-7.47,-7.46,-7.47,-7.52,-7.57,-7.66,-7.79,-7.92,-8.07],
[-8.08,-7.98,-7.78,-7.62,-7.5,-7.41,-7.37,-7.41,-7.44,-7.41,-7.37,-7.41,-7.5,-7.62,-7.78,-7.98,-8.08],
[-8.3,-8.1,-7.88,-7.62,-7.5,-7.39,-7.33,-7.36,-7.38,-7.36,-7.33,-7.39,-7.5,-7.62,-7.88,-8.1,-8.3],
[-9.4,-9.4,-8.7,-8.1,-7.62,-7.35,-7.29,-7.27,-7.31,-7.27,-7.29,-7.35,-7.62,-8.1,-8.7,-9.4,-9.4],
[-9.4,-9.4,-9.4,-9.4,-8.7,-7.42,-7.27,-7.2,-7.24,-7.2,-7.27,-7.42,-8.7,-9.4,-9.4,-9.4,-9.4],
[-9.4,-9.4,-9.4,-9.4,-8.8,-7.42,-7.24,-7.17,-7.15,-7.17,-7.24,-7.42,-8.8,-9.4,-9.4,-9.4,-9.4],
[-9.4,-9.4,-9.4,-9.4,-8.7,-7.42,-7.27,-7.19,-7.24,-7.19,-7.27,-7.42,-8.7,-9.4,-9.4,-9.4,-9.4],
[-9.4,-9.4,-8.7,-8.1,-7.62,-7.35,-7.29,-7.27,-7.31,-7.27,-7.29,-7.35,-7.62,-8.1,-8.7,-9.4,-9.4],
[-8.3,-8.1,-7.88,-7.62,-7.5,-7.39,-7.33,-7.36,-7.38,-7.36,-7.33,-7.39,-7.5,-7.62,-7.88,-8.1,-8.3],
[-8.08,-7.98,-7.78,-7.62,-7.5,-7.41,-7.37,-7.41,-7.44,-7.41,-7.37,-7.41,-7.5,-7.62,-7.78,-7.98,-8.08],
[-8.07,-7.92,-7.79,-7.66,-7.57,-7.52,-7.47,-7.46,-7.47,-7.46,-7.47,-7.52,-7.57,-7.66,-7.79,-7.92,-8.07],
[-8.05,-7.97,-7.8,-7.72,-7.63,-7.55,-7.54,-7.52,-7.5,-7.52,-7.54,-7.55,-7.63,-7.72,-7.8,-7.97,-8.05]];
const panelI_blobs=[
[-4000,-1460,-3190,-1430,-2980,-1000,-2620,-930,-2270,-830,-2250,-720,-2030,-540,-2030,440,-2520,940,-2910,940,-3000,640,-3080,1150,-3610,1470,-4000,1430],
[4000,-1460,3440,-1390,3020,-900,2310,-930,2100,-830,2030,-260,2000,370,2390,900,2740,940,2980,730,3160,1290,3550,1470,4000,1470]];
const panelI_edges=[[2,9],[2,8]];
const panelI_spikes=[[-2700,-15,-2050,-15,-2050,15,-2700,15],[2050,-15,2700,-15,2700,15,2050,15]];
const panelI_thin=[];
const panelI_boxX=[-1500,-500,-500,-1500,-1500,null,500,1500,1500,500,500,null,-1500,-500,-500,-1500,-1500,null,500,1500,1500,500,500];
const panelI_boxY=[-1500,-1500,-500,-500,-1500,null,-1500,-1500,-500,-500,-1500,null,500,500,1500,1500,500,null,500,500,1500,1500,500];

const panels=[
{z:panelA_z,blobs:panelA_blobs,edges:panelA_edges,spikes:panelA_spikes,thin:panelA_thin,bx:panelA_boxX,by:panelA_boxY},
{z:panelB_z,blobs:panelB_blobs,edges:panelB_edges,spikes:panelB_spikes,thin:panelB_thin,bx:panelB_boxX,by:panelB_boxY},
{z:panelC_z,blobs:panelC_blobs,edges:panelC_edges,spikes:panelC_spikes,thin:panelC_thin,bx:panelC_boxX,by:panelC_boxY},
{z:panelD_z,blobs:panelD_blobs,edges:panelD_edges,spikes:panelD_spikes,thin:panelD_thin,bx:panelD_boxX,by:panelD_boxY},
{z:panelE_z,blobs:panelE_blobs,edges:panelE_edges,spikes:panelE_spikes,thin:panelE_thin,bx:panelE_boxX,by:panelE_boxY},
{z:panelF_z,blobs:panelF_blobs,edges:panelF_edges,spikes:panelF_spikes,thin:panelF_thin,bx:panelF_boxX,by:panelF_boxY},
{z:panelG_z,blobs:panelG_blobs,edges:panelG_edges,spikes:panelG_spikes,thin:panelG_thin,bx:panelG_boxX,by:panelG_boxY},
{z:panelH_z,blobs:panelH_blobs,edges:panelH_edges,spikes:panelH_spikes,thin:panelH_thin,bx:panelH_boxX,by:panelH_boxY},
{z:panelI_z,blobs:panelI_blobs,edges:panelI_edges,spikes:panelI_spikes,thin:panelI_thin,bx:panelI_boxX,by:panelI_boxY}];

const W=1307,H=1165;
const colPx=[[56.7,435],[486.3,864.6],[915,1293.3]];
const rowPx=[[132.7,416],[497.5,781],[862.3,1145.7]];
const px=x=>x/W, py=y=>1-y/H;
const SANS='"Liberation Sans",Arial,sans-serif';
const colorscale=legendColors.map((c,i)=>[i/20,c]);
const GREEN='#00ff33', BLUE='#0a1ef0';
const traces=[],annotations=[],shapes=[];
const layout={width:W,height:H,autosize:false,margin:{l:0,r:0,t:0,b:0},paper_bgcolor:'#fff',plot_bgcolor:'#000',showlegend:false,annotations,shapes,font:{family:SANS,color:'#000'}};

function flat(a){const x=[],y=[];for(let i=0;i<a.length;i+=2){x.push(a[i]);y.push(a[i+1]);}return{x,y};}
function note(text,x,y,size,extra){annotations.push(Object.assign({text,x:px(x),y:py(y),xref:'paper',yref:'paper',showarrow:false,font:{size,family:SANS,color:'#000'},xanchor:'center',yanchor:'middle'},extra||{}));}
function pathOf(points){return points.map((p,i)=>(i?'L':'M')+px(p[0]).toFixed(5)+','+py(p[1]).toFixed(5)).join(' ');}
function section(points,head){
  shapes.push({type:'path',xref:'paper',yref:'paper',path:pathOf(points),line:{color:'#000',width:1.2},layer:'above'});
  shapes.push({type:'path',xref:'paper',yref:'paper',path:pathOf(head)+' Z',fillcolor:'#000',line:{color:'#000',width:0.5},layer:'above'});
}

panels.forEach((p,i)=>{
  const n=i+1,col=i%3,row=Math.floor(i/3);
  const xa='x'+(n===1?'':n),ya='y'+(n===1?'':n);
  const [x0,x1]=colPx[col],[y0,y1]=rowPx[row];
  const axisBase={showgrid:false,zeroline:false,showline:true,linecolor:'#222',linewidth:1,mirror:'ticks',ticks:'outside',ticklen:4,tickcolor:'#000',tickwidth:1,tickfont:{size:9,family:SANS,color:'#000'},tickmode:'array',minor:{dtick:250,tick0:0,ticks:'outside',ticklen:2,tickcolor:'#000',tickwidth:1,showgrid:false}};
  layout['xaxis'+(n===1?'':n)]=Object.assign({},axisBase,{domain:[px(x0),px(x1)],range:[-4000,4000],side:'top',anchor:ya,tickvals:xTicks,ticktext:xTicks.map(String)});
  layout['yaxis'+(n===1?'':n)]=Object.assign({},axisBase,{domain:[py(y1),py(y0)],range:[3000,-3000],anchor:xa,tickvals:yTicks,ticktext:yTicks.map(String)});
  traces.push({type:'contour',x:gridX,y:gridY,z:p.z,xaxis:xa,yaxis:ya,zmin:-9.5,zmax:-5.5,colorscale,showscale:false,autocontour:false,
    contours:{start:-9.4,end:-5.6,size:0.2,coloring:'fill',showlabels:true,labelfont:{size:8,color:'#000',family:SANS,weight:700},labelformat:'.1f'},
    line:{color:'#000',width:1,smoothing:0.7},hoverinfo:'skip'});
  p.blobs.forEach((b,k)=>{
    const q=flat(b);
    traces.push({type:'scatter',mode:'lines',x:q.x.concat(q.x[0]),y:q.y.concat(q.y[0]),xaxis:xa,yaxis:ya,fill:'toself',fillcolor:'#ff00ff',line:{color:'#1a001a',width:1},hoverinfo:'skip'});
    const e=p.edges[k];
    traces.push({type:'scatter',mode:'lines',x:q.x.slice(e[0],e[1]+1),y:q.y.slice(e[0],e[1]+1),xaxis:xa,yaxis:ya,line:{color:'#120012',width:2.6},hoverinfo:'skip'});
  });
  p.spikes.forEach(s=>{
    const q=flat(s);
    traces.push({type:'scatter',mode:'lines',x:q.x.concat(q.x[0]),y:q.y.concat(q.y[0]),xaxis:xa,yaxis:ya,fill:'toself',fillcolor:'#200018',line:{color:'#200018',width:1},hoverinfo:'skip'});
  });
  p.thin.forEach(s=>{
    const q=flat(s);
    traces.push({type:'scatter',mode:'lines',x:q.x,y:q.y,xaxis:xa,yaxis:ya,line:{color:'#1a001a',width:0.9,shape:'spline',smoothing:0.6},hoverinfo:'skip'});
  });
  // vector glyphs on the 250 m mesh: direction from arrowAngle, length from the panel's own field values
  const sx=[],sy=[],hx=[],hy=[],ha=[],hs=[];
  for(let gy=-3000;gy<=3000;gy+=250){for(let gx=-4000;gx<=4000;gx+=250){
    const r=Math.min(12,Math.round((gy+3000)/500)),c=Math.min(16,Math.round((gx+4000)/500));
    const a=arrowAngle[r][c],rad=a*Math.PI/180;
    const L=Math.max(10,Math.min(180,105+(p.z[r][c]+7.6)*90));
    const dx=Math.sin(rad)*L/2,dy=-Math.cos(rad)*L/2;
    sx.push(gx-dx,gx+dx,null);sy.push(gy-dy,gy+dy,null);
    hx.push(gx+dx);hy.push(gy+dy);ha.push(a);hs.push(Math.max(1.5,Math.min(4.5,L/28)));
  }}
  traces.push({type:'scatter',mode:'lines',x:sx,y:sy,xaxis:xa,yaxis:ya,line:{color:BLUE,width:1},hoverinfo:'skip',connectgaps:false});
  traces.push({type:'scatter',mode:'markers',x:hx,y:hy,xaxis:xa,yaxis:ya,marker:{symbol:'arrow',size:hs,angle:ha,color:BLUE,line:{width:0}},hoverinfo:'skip'});
  traces.push({type:'scatter',mode:'lines',x:p.bx,y:p.by,xaxis:xa,yaxis:ya,line:{color:'#000',width:1.5,dash:'5px,3px'},hoverinfo:'skip',connectgaps:false});
  traces.push({type:'scatter',mode:'lines',x:loopX,y:loopY,xaxis:xa,yaxis:ya,line:{color:GREEN,width:3.2},hoverinfo:'skip'});
  traces.push({type:'scatter',mode:'markers',x:[-2270,2560],y:[-2000,-2000],xaxis:xa,yaxis:ya,marker:{symbol:'arrow-wide',size:27,angle:90,color:GREEN,line:{width:0}},hoverinfo:'skip'});
  traces.push({type:'scatter',mode:'markers',x:[-3000],y:[0],xaxis:xa,yaxis:ya,marker:{symbol:'circle-open-dot',size:14,color:GREEN,line:{width:1.6,color:GREEN}},hoverinfo:'skip'});
  traces.push({type:'scatter',mode:'markers',x:[3000],y:[0],xaxis:xa,yaxis:ya,marker:{symbol:'circle-x-open',size:14,color:GREEN,line:{width:1.6,color:GREEN}},hoverinfo:'skip'});
  // section markers and titles
  const cx=(x0+x1)/2,cy=(y0+y1)/2;
  section([[cx,y0+7],[cx,y0-6],[cx+7,y0-6]],[[cx+10,y0-6],[cx+5,y0-8.5],[cx+5,y0-3.5]]);
  section([[cx,y1-7],[cx,y1+5.5],[cx+7,y1+5.5]],[[cx+10,y1+5.5],[cx+5,y1+3],[cx+5,y1+8]]);
  section([[x0+8,cy],[x0-5,cy],[x0-5,cy-6]],[[x0-5,cy-9],[x0-7.5,cy-4],[x0-2.5,cy-4]]);
  section([[x1-8,cy],[x1+5,cy],[x1+5,cy-6]],[[x1+5,cy-9],[x1+2.5,cy-4],[x1+7.5,cy-4]]);
  note('X (m)',cx,y0-23.5,10);
  note('Y (m)',x0-36.5,cy,10,{textangle:-90});
  note('Electric field in the horizontal plane Z=0',cx,y1+12,11.3);
});

// legend strip
const lx='x10',ly='y10';
layout.xaxis10={domain:[px(540.7),px(810.7)],range:[-9.6,-5.4],anchor:'y10',showgrid:false,zeroline:false,showline:true,linecolor:'#000',linewidth:1,mirror:true,ticks:'',tickmode:'array',tickvals:legendTicks,ticktext:legendTickText,tickangle:-90,tickfont:{size:10,family:SANS,color:'#000'}};
layout.yaxis10={domain:[py(63),py(45.5)],range:[0,1],anchor:'x10',showgrid:false,zeroline:false,showticklabels:false,ticks:'',showline:true,linecolor:'#000',linewidth:1,mirror:true};
traces.push({type:'heatmap',x:legendLevels,y:[0.5],z:[legendLevels],xaxis:lx,yaxis:ly,zmin:-9.5,zmax:-5.5,colorscale,showscale:false,xgap:1.2,hoverinfo:'skip'});
shapes.push({type:'line',xref:'x10',yref:'paper',x0:mtSignalLevel,x1:mtSignalLevel,y0:py(104),y1:py(62),line:{color:'#f00000',width:1.2},layer:'above'});
note('Contour of the electric vector length<br>in the drawing plane [log<sub>10</sub>(V/m)]',546,26,13,{xanchor:'left',align:'left'});
note('MT signal',505,94,15,{xanchor:'left',font:{size:15,family:SANS,color:'#f00000'}});
const SERIF='"Liberation Serif","Times New Roman",serif';
[['a)',5,157],['b)',5,521],['c)',5,887],['d)',879,885]].forEach(l=>note('<b>'+l[0]+'</b>',l[1],l[2],31,{xanchor:'left',font:{size:31,family:SERIF,color:'#000'}}));

Plotly.newPlot('chart',traces,layout,{staticPlot:true,displayModeBar:false});
</script></body></html>
